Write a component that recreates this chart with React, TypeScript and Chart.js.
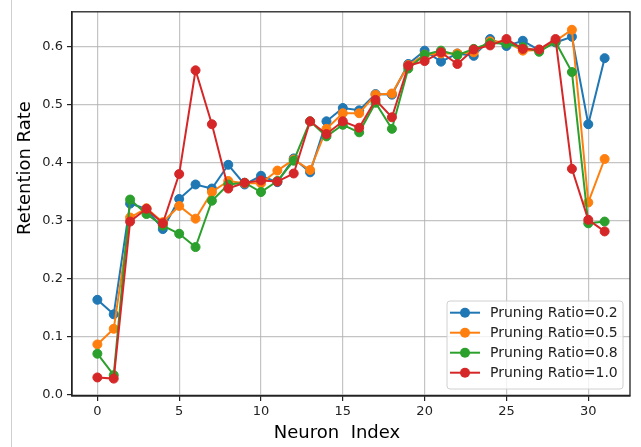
import React, { useEffect, useRef } from "react";
import { Chart, registerables } from "chart.js";

Chart.register(...registerables);

const neuronIndex = [0, 1, 2, 3, 4, 5, 6, 7, 8, 9, 10, 11, 12, 13, 14, 15, 16, 17, 18, 19, 20, 21, 22, 23, 24, 25, 26, 27, 28, 29, 30, 31];
const ratio02 = [0.163, 0.138, 0.329, 0.320, 0.285, 0.337, 0.362, 0.355, 0.396, 0.362, 0.377, 0.366, 0.407, 0.383, 0.471, 0.494, 0.490, 0.518, 0.517, 0.570, 0.593, 0.574, 0.588, 0.584, 0.613, 0.601, 0.610, 0.594, 0.607, 0.617, 0.466, 0.580];
const ratio05 = [0.086, 0.113, 0.305, 0.321, 0.297, 0.325, 0.303, 0.349, 0.368, 0.364, 0.364, 0.386, 0.405, 0.387, 0.458, 0.485, 0.485, 0.517, 0.519, 0.568, 0.586, 0.588, 0.588, 0.590, 0.609, 0.608, 0.593, 0.594, 0.610, 0.629, 0.331, 0.406];
const ratio08 = [0.070, 0.033, 0.336, 0.311, 0.291, 0.277, 0.254, 0.334, 0.362, 0.365, 0.349, 0.368, 0.403, 0.471, 0.445, 0.465, 0.452, 0.503, 0.458, 0.562, 0.586, 0.593, 0.585, 0.596, 0.606, 0.605, 0.599, 0.591, 0.608, 0.556, 0.295, 0.298];
const ratio10 = [0.029, 0.027, 0.298, 0.320, 0.295, 0.380, 0.559, 0.466, 0.355, 0.365, 0.369, 0.367, 0.381, 0.471, 0.449, 0.471, 0.460, 0.508, 0.478, 0.567, 0.575, 0.590, 0.570, 0.595, 0.602, 0.613, 0.596, 0.595, 0.613, 0.389, 0.301, 0.281];

const seriesLabels = ["Pruning Ratio=0.2", "Pruning Ratio=0.5", "Pruning Ratio=0.8", "Pruning Ratio=1.0"];
const seriesColors = ["#1f77b4", "#ff7f0e", "#2ca02c", "#d62728"];
const seriesValues = [ratio02, ratio05, ratio08, ratio10];

const xTicks = [0, 5, 10, 15, 20, 25, 30];
const yTicks = [0, 0.1, 0.2, 0.3, 0.4, 0.5, 0.6];
const xTitle = "Neuron  Index";
const yTitle = "Retention Rate";

const FONT = "'DejaVu Sans', sans-serif";

export default function App() {
  const ref = useRef<HTMLCanvasElement | null>(null);

  useEffect(() => {
    document.body.style.margin = "0";
    const canvas = ref.current;
    if (!canvas) return;

    const decor = {
      id: "decor",
      beforeDraw(chart: any) {
        const ctx = chart.ctx;
        ctx.save();
        ctx.fillStyle = "#ffffff";
        ctx.fillRect(0, 0, chart.width, chart.height);
        ctx.strokeStyle = "#cfcfcf";
        ctx.lineWidth = 1;
        ctx.beginPath();
        ctx.moveTo(11.5, 0);
        ctx.lineTo(11.5, chart.height);
        ctx.stroke();
        ctx.restore();
      },
      afterDraw(chart: any) {
        const ctx = chart.ctx;
        const a = chart.chartArea;
        ctx.save();
        // frame
        ctx.strokeStyle = "#222222";
        ctx.lineWidth = 1.3;
        ctx.strokeRect(a.left, a.top, a.right - a.left, a.bottom - a.top);
        // axis titles
        ctx.fillStyle = "#000000";
        ctx.font = `18px ${FONT}`;
        ctx.textAlign = "center";
        ctx.textBaseline = "middle";
        ctx.fillText(xTitle, 337, 433);
        ctx.save();
        ctx.translate(25, 168);
        ctx.rotate(-Math.PI / 2);
        ctx.fillText(yTitle, 0, 0);
        ctx.restore();
        // legend
        const bx = 447, by = 301, bw = 176, bh = 88, r = 3;
        ctx.beginPath();
        ctx.moveTo(bx + r, by);
        ctx.lineTo(bx + bw - r, by);
        ctx.quadraticCurveTo(bx + bw, by, bx + bw, by + r);
        ctx.lineTo(bx + bw, by + bh - r);
        ctx.quadraticCurveTo(bx + bw, by + bh, bx + bw - r, by + bh);
        ctx.lineTo(bx + r, by + bh);
        ctx.quadraticCurveTo(bx, by + bh, bx, by + bh - r);
        ctx.lineTo(bx, by + r);
        ctx.quadraticCurveTo(bx, by, bx + r, by);
        ctx.closePath();
        ctx.fillStyle = "rgba(255,255,255,0.8)";
        ctx.fill();
        ctx.strokeStyle = "#d0d0d0";
        ctx.lineWidth = 1;
        ctx.stroke();
        ctx.font = `14px ${FONT}`;
        ctx.textAlign = "left";
        ctx.textBaseline = "middle";
        seriesLabels.forEach((label, i) => {
          const y = 312.7 + 20 * i;
          ctx.strokeStyle = seriesColors[i];
          ctx.lineWidth = 2;
          ctx.beginPath();
          ctx.moveTo(450, y);
          ctx.lineTo(480, y);
          ctx.stroke();
          ctx.fillStyle = seriesColors[i];
          ctx.beginPath();
          ctx.arc(465, y, 5, 0, Math.PI * 2);
          ctx.fill();
          ctx.fillStyle = "#222222";
          ctx.fillText(label, 490, y + 0.5);
        });
        ctx.restore();
      },
    };

    const chart = new Chart(canvas, {
      type: "line",
      data: {
        datasets: seriesValues.map((vals, i) => ({
          label: seriesLabels[i],
          data: neuronIndex.map((x, j) => ({ x, y: vals[j] })),
          borderColor: seriesColors[i],
          backgroundColor: seriesColors[i],
          pointBackgroundColor: seriesColors[i],
          pointBorderColor: seriesColors[i],
          pointBorderWidth: 1,
          pointRadius: 4.5,
          borderWidth: 2,
          tension: 0,
          fill: false,
          order: 3 - i,
        })),
      },
      options: {
        responsive: false,
        animation: false,
        layout: { padding: { top: 9, right: 11, left: 0, bottom: 0 } },
        plugins: {
          legend: { display: false },
          tooltip: { enabled: false },
        },
        scales: {
          x: {
            type: "linear",
            min: -1.55,
            max: 32.55,
            afterBuildTicks: (s: any) => {
              s.ticks = xTicks.map((v) => ({ value: v }));
            },
            afterFit: (s: any) => {
              s.height = 51;
            },
            ticks: {
              callback: (v: any) => String(v),
              font: { family: FONT, size: 13 },
              color: "#222222",
              padding: 3,
              maxRotation: 0,
            },
            grid: {
              color: "rgba(176,176,176,0.75)",
              lineWidth: 1.2,
              tickColor: "#222222",
              tickLength: 5,
            },
            border: { display: true, color: "#222222", width: 1.3 },
            title: { display: false },
          },
          y: {
            type: "linear",
            min: -0.003,
            max: 0.66,
            afterBuildTicks: (s: any) => {
              s.ticks = yTicks.map((v) => ({ value: v }));
            },
            afterFit: (s: any) => {
              s.width = 72;
            },
            ticks: {
              callback: (v: any) => Number(v).toFixed(1),
              font: { family: FONT, size: 13 },
              color: "#222222",
              padding: 4,
            },
            grid: {
              color: "rgba(176,176,176,0.75)",
              lineWidth: 1.2,
              tickColor: "#222222",
              tickLength: 5,
            },
            border: { display: true, color: "#222222", width: 1.3 },
            title: { display: false },
          },
        },
      },
      plugins: [decor],
    } as any);

    return () => {
      chart.destroy();
    };
  }, []);

  return (
    <div style={{ position: "fixed", left: 0, top: 0, width: 641, height: 447, background: "#fff" }}>
      <canvas ref={ref} width={641} height={447} style={{ display: "block", width: 641, height: 447 }} />
    </div>
  );
}
